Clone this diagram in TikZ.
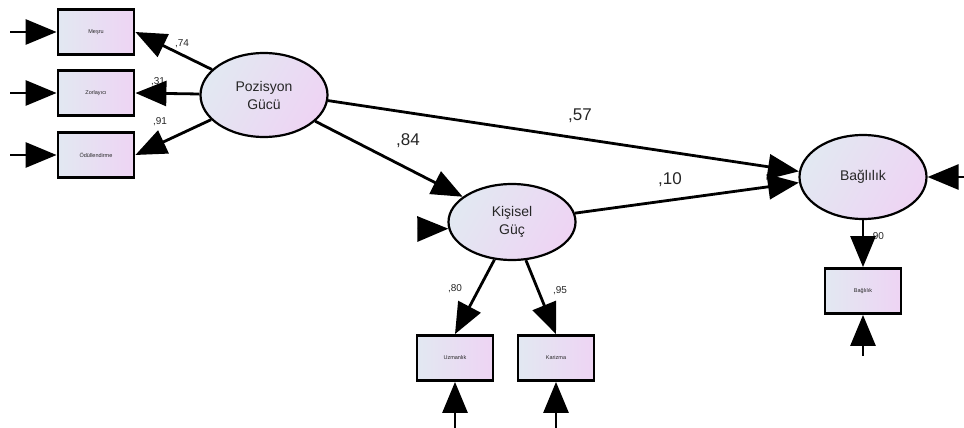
\documentclass[tikz,border=0pt]{standalone}
\usepackage{fontspec}
\setmainfont{Liberation Sans}
\usetikzlibrary{arrows.meta,shapes.geometric,calc}
\definecolor{fillL}{RGB}{226,232,242}
\definecolor{fillR}{RGB}{238,212,243}
\tikzset{
  latent/.style={ellipse,draw=black,line width=2.2pt,minimum width=127pt,minimum height=84pt,inner sep=0pt,
    shading=axis,left color=fillL,right color=fillR,shading angle=60,align=center,
    font=\fontsize{14}{18}\selectfont,text=black!85},
  obs/.style={rectangle,draw=black,line width=2.8pt,minimum width=76pt,minimum height=45pt,inner sep=0pt,
    shading=axis,left color=fillL,right color=fillR,font=\fontsize{5.5}{6}\selectfont,text=black!85},
  arr/.style={line width=2.8pt,-{Triangle[length=31pt,width=25pt]},shorten >=0pt},
  biglab/.style={font=\fontsize{17}{18}\selectfont,text=black!85,inner sep=0pt},
  smalllab/.style={font=\fontsize{10}{10}\selectfont,text=black!85,inner sep=0pt},
}
\begin{document}
\begin{tikzpicture}[x=1pt,y=-1pt]
\useasboundingbox (0,0) rectangle (964,428);
% latent variables
\node[latent] (poz) at (264,95) {Pozisyon\\Gücü};
\node[latent,minimum height=76pt] (kis) at (512,222) {Kişisel\\Güç};
\node[latent] (bag) at (863,177) {Bağlılık};
% observed
\node[obs] (mesru) at (96,32) {Meşru};
\node[obs] (zor) at (96,93) {Zorlayıcı};
\node[obs] (odul) at (96,155) {Ödüllendirme};
\node[obs] (uzm) at (455,358) {Uzmanlık};
\node[obs] (kar) at (556,358) {Karizma};
\node[obs] (bagbox) at (863,291) {Bağlılık};
% error coordinates
\coordinate (e1) at (10,32);
\coordinate (e2) at (10,93);
\coordinate (e3) at (10,155);
\coordinate (e4) at (455,430);
\coordinate (e5) at (556,430);
\coordinate (e6) at (863,356);
\coordinate (e7) at (966,177);
\coordinate (e8) at (418,229);
% labels
\node[smalllab] (l74) at (182,44) {,74};
\node[smalllab] (l31) at (158,82) {,31};
\node[smalllab] (l91) at (160,122) {,91};
\node[biglab] (l57) at (580,116) {,57};
\node[biglab] (l84) at (408,141) {,84};
\node[biglab] (l10) at (670,180) {,10};
\node[smalllab] (l80) at (455,289) {,80};
\node[smalllab] (l95) at (560,291) {,95};
\node[smalllab] (l90) at (877,237) {,90};
% structural paths
\draw[arr] (poz) -- (mesru.east);
\draw[arr] (poz) -- (zor.east);
\draw[arr] (poz) -- (odul.east);
\draw[arr] (poz.355) -- (bag.175);
\draw[arr] (poz) -- (kis);
\draw[arr] (kis.8) -- (bag.185);
\draw[arr] (kis.245) -- (uzm.north);
\draw[arr] (kis.290) -- (kar.north);
\draw[arr] (bag) -- (bagbox.north);
% errors
\draw[arr] (e1) -- (mesru.west);
\draw[arr] (e2) -- (zor.west);
\draw[arr] (e3) -- (odul.west);
\draw[arr] (e4) -- (uzm.south);
\draw[arr] (e5) -- (kar.south);
\draw[arr] (e6) -- (bagbox.south);
\draw[arr] (e7) -- (bag.east);
\draw[arr] (e8) -- (kis.186);
\end{tikzpicture}
\end{document}
